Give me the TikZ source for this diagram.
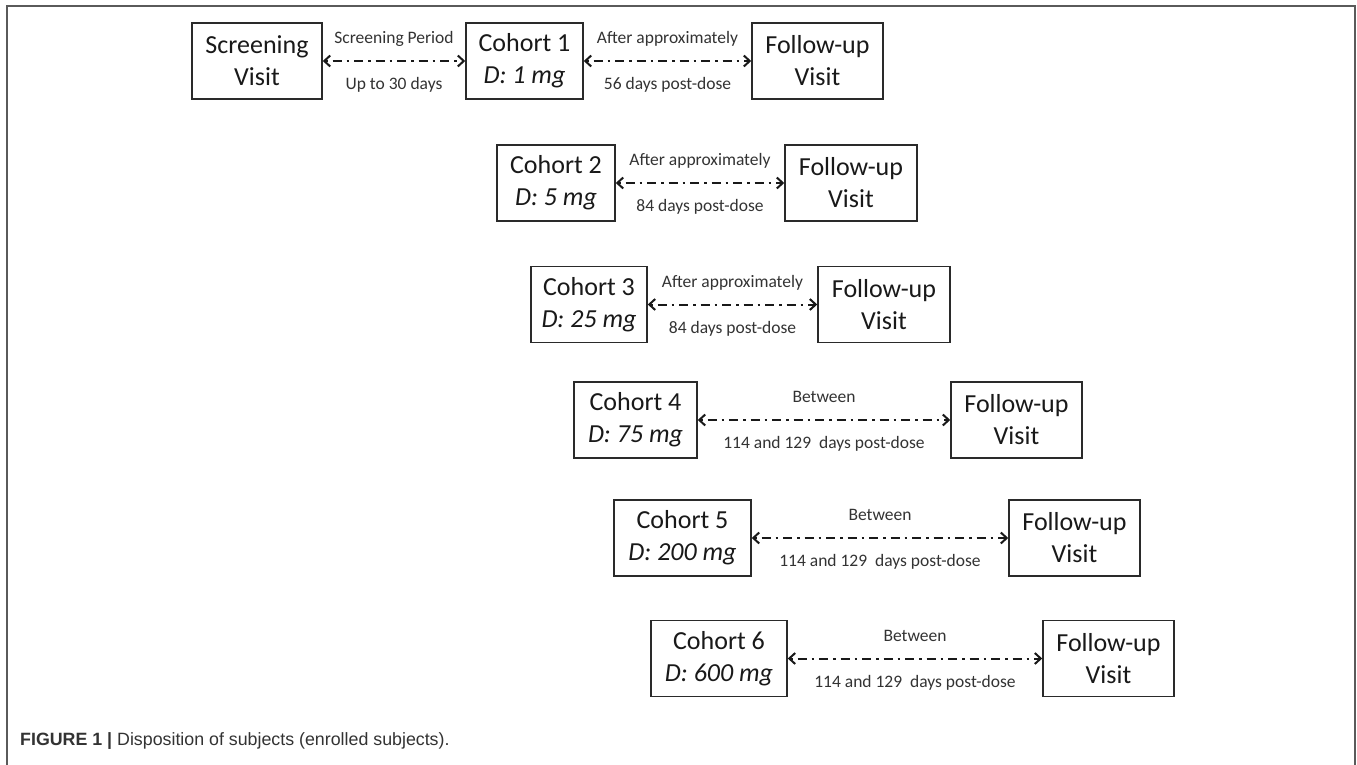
\documentclass[tikz,border=0pt]{standalone}
\usepackage{fontspec}
\setmainfont{Carlito}
\newfontfamily\capfont{Liberation Sans}
\usetikzlibrary{arrows.meta,calc}
\definecolor{framecol}{HTML}{5A5A5A}
\definecolor{boxcol}{HTML}{2A2A2A}
\definecolor{labcol}{HTML}{333333}
\tikzset{
  stepbox/.style={draw=boxcol, line width=1.5pt, inner sep=0pt, minimum height=76pt,
    align=center, font=\fontsize{26}{32}\selectfont, text=black!90},
  dasharrow/.style={line width=2pt, draw=black!90, {Straight Barb[length=6pt,width=11pt]}-{Straight Barb[length=6pt,width=11pt]},
    dash pattern=on 2.5pt off 5pt on 9pt off 5pt},
  uplab/.style={midway, anchor=base, yshift=17.5pt, font=\fontsize{17.5}{20}\selectfont, text=labcol, inner sep=0pt},
  lowlab/.style={midway, anchor=base, yshift=-28.5pt, font=\fontsize{17.5}{20}\selectfont, text=labcol, inner sep=0pt}
}
\begin{document}
\begin{tikzpicture}[x=1pt,y=-1pt]
\useasboundingbox (0,0) rectangle (1357,765);
\fill[white] (0,0) rectangle (1357,765);
\draw[framecol, line width=2pt] (7,766) -- (7,6) -- (1355,6) -- (1355,766);

% Row 1
\node[stepbox, minimum width=130pt] (scr) at (257,61) {Screening\\Visit};
\node[stepbox, minimum width=117pt] (c1) at (524.5,61) {Cohort 1\\\textit{D: 1 mg}};
\node[stepbox, minimum width=131pt] (f1) at (817.5,61) {Follow-up\\Visit};
% Row 2
\node[stepbox, minimum width=118pt] (c2) at (556,183) {Cohort 2\\\textit{D: 5 mg}};
\node[stepbox, minimum width=132pt] (f2) at (851,183) {Follow-up\\Visit};
% Row 3
\node[stepbox, minimum width=116pt] (c3) at (589,304.5) {Cohort 3\\\textit{D: 25 mg}};
\node[stepbox, minimum width=132pt] (f3) at (884,304.5) {Follow-up\\Visit};
% Row 4
\node[stepbox, minimum width=123pt] (c4) at (635.5,420) {Cohort 4\\\textit{D: 75 mg}};
\node[stepbox, minimum width=131pt] (f4) at (1016.5,420) {Follow-up\\Visit};
% Row 5
\node[stepbox, minimum width=137pt] (c5) at (682.5,538) {Cohort 5\\\textit{D: 200 mg}};
\node[stepbox, minimum width=131pt] (f5) at (1074.5,538) {Follow-up\\Visit};
% Row 6
\node[stepbox, minimum width=136pt] (c6) at (719,658.5) {Cohort 6\\\textit{D: 600 mg}};
\node[stepbox, minimum width=131pt] (f6) at (1108.5,658.5) {Follow-up\\Visit};

% Arrows
\draw[dasharrow] (scr.east) -- (c1.west)
  node[uplab] (l0a) {Screening Period} node[lowlab] (l0b) {Up to 30 days};
\draw[dasharrow] (c1.east) -- (f1.west)
  node[uplab] (l1a) {After approximately} node[lowlab] (l1b) {56 days post-dose};
\draw[dasharrow] (c2.east) -- (f2.west)
  node[uplab] (l2a) {After approximately} node[lowlab] (l2b) {84 days post-dose};
\draw[dasharrow] (c3.east) -- (f3.west)
  node[uplab] (l3a) {After approximately} node[lowlab] (l3b) {84 days post-dose};
\draw[dasharrow] (c4.east) -- (f4.west)
  node[uplab] (l4a) {Between} node[lowlab] (l4b) {114 and 129\ \ days post-dose};
\draw[dasharrow] (c5.east) -- (f5.west)
  node[uplab] (l5a) {Between} node[lowlab] (l5b) {114 and 129\ \ days post-dose};
\draw[dasharrow] (c6.east) -- (f6.west)
  node[uplab] (l6a) {Between} node[lowlab] (l6b) {114 and 129\ \ days post-dose};

% Caption
\node[anchor=base west, inner sep=0pt, font=\capfont\fontsize{17.8}{20}\selectfont, text=black!80] (cap) at (20,745)
  {\textbf{FIGURE 1 |} Disposition of subjects (enrolled subjects).};
\end{tikzpicture}
\end{document}
